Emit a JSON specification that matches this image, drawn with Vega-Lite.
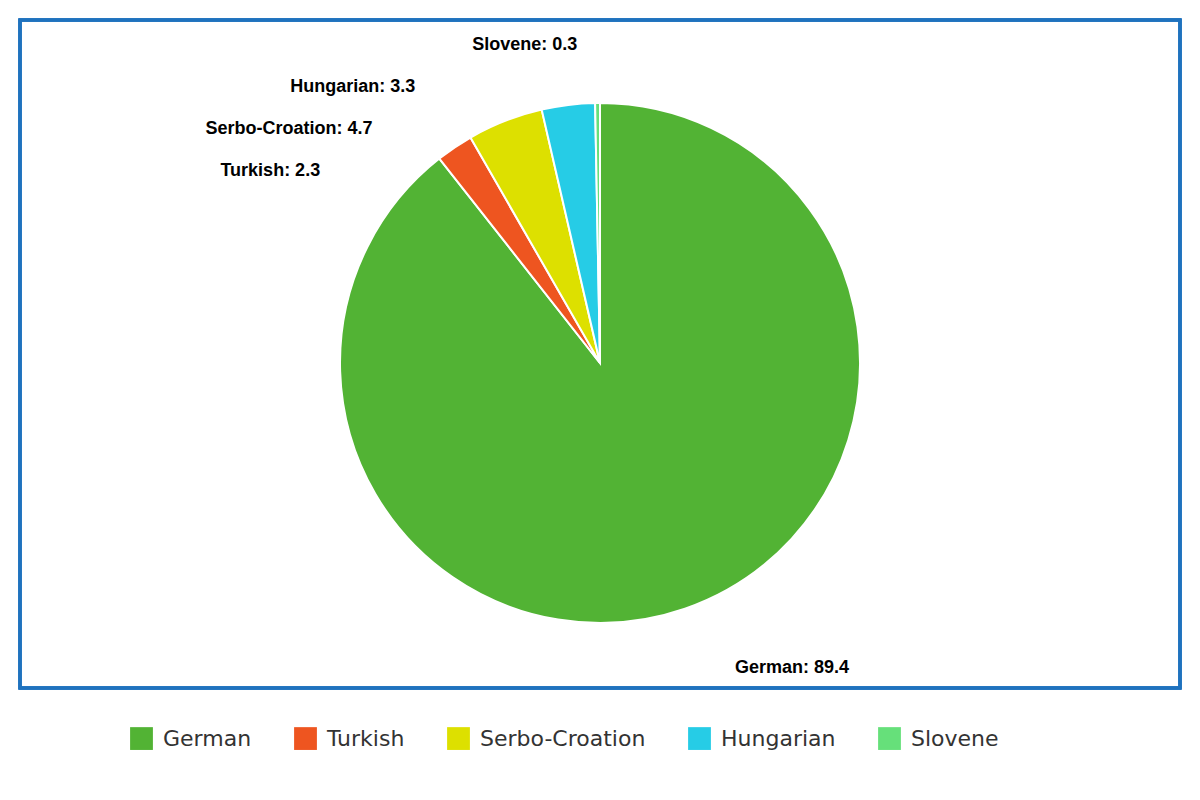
{
  "$schema": "https://vega.github.io/schema/vega-lite/v6.json",
  "width": 1160,
  "height": 668,
  "padding": {"left": 20, "top": 20, "right": 20, "bottom": 112},
  "autosize": "none",
  "background": "white",
  "config": {"view": {"stroke": null}},
  "title": {"text": "meta-chart.com", "orient": "bottom", "anchor": "end", "fontSize": 16, "fontWeight": "normal", "color": "#666", "font": "DejaVu Sans", "offset": 84, "baseline": "alphabetic"},
  "data": {
    "values": [
      {"Language": "German", "Value": 89.4, "order": 1},
      {"Language": "Turkish", "Value": 2.3, "order": 2},
      {"Language": "Serbo-Croation", "Value": 4.7, "order": 3},
      {"Language": "Hungarian", "Value": 3.3, "order": 4},
      {"Language": "Slovene", "Value": 0.3, "order": 5}
    ]
  },
  "transform": [{"calculate": "datum.Language + ': ' + datum.Value", "as": "label"}],
  "encoding": {
    "theta": {"field": "Value", "type": "quantitative", "stack": true},
    "order": {"field": "order", "type": "quantitative"}
  },
  "layer": [
    {
      "mark": {"type": "rect", "x": {"expr": "0"}, "x2": {"expr": "width"}, "y": {"expr": "0"}, "y2": {"expr": "height"}, "fill": null, "stroke": "#1f72be", "strokeWidth": 3},
      "encoding": {"theta": null, "order": null}
    },
    {
      "mark": {"type": "arc", "outerRadius": 260, "stroke": "white", "strokeWidth": 2, "y": {"expr": "height/2 + 9"}},
      "encoding": {
        "color": {
          "field": "Language", "type": "nominal",
          "sort": ["German", "Turkish", "Serbo-Croation", "Hungarian", "Slovene"],
          "scale": {"domain": ["German", "Turkish", "Serbo-Croation", "Hungarian", "Slovene"], "range": ["#52b334", "#ee5520", "#dde000", "#26cce6", "#66e07a"]},
          "legend": {
            "title": null, "orient": "none", "direction": "horizontal", "legendX": 110, "legendY": 707,
            "symbolType": "square", "symbolSize": 520, "symbolStrokeWidth": 0, "labelFontSize": 22, "labelColor": "#333",
            "labelFont": "DejaVu Sans", "columnPadding": 42, "labelOffset": 10, "labelLimit": 300
          }
        }
      }
    },
    {
      "mark": {
        "type": "text", "radius": 300, "fontSize": 18, "fontWeight": "bold", "font": "Liberation Sans", "color": "black",
        "y": {"expr": "height/2 + 9"},
        "align": {"expr": "datum.Language === 'German' ? 'left' : 'right'"},
        "dx": {"expr": "datum.Language === 'German' ? 37 : datum.Language === 'Turkish' ? -112 : datum.Language === 'Serbo-Croation' ? -118 : datum.Language === 'Hungarian' ? -148 : -20"},
        "dy": {"expr": "datum.Language === 'German' ? 21 : datum.Language === 'Turkish' ? 57 : datum.Language === 'Serbo-Croation' ? 45 : datum.Language === 'Hungarian' ? 22 : -18"}
      },
      "encoding": {"text": {"field": "label"}}
    }
  ]
}
